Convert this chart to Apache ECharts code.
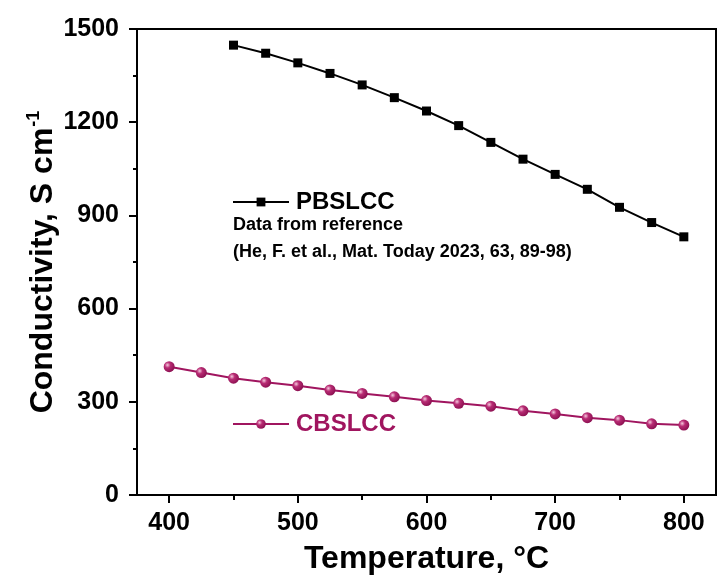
<!DOCTYPE html>
<html>
<head>
<meta charset="utf-8">
<script src="https://cdn.jsdelivr.net/npm/echarts@6/dist/echarts.min.js"></script>
<style>html,body{margin:0;padding:0;background:#fff;}#c{width:718px;height:581px;}</style>
</head>
<body>
<div id="c"></div>
<script>
const pbsTemps = [450,475,500,525,550,575,600,625,650,675,700,725,750,775,800];
const pbsValues = [1448,1422,1391,1357,1320,1279,1236,1189,1135,1081,1032,984,926,877,831];
const cbsTemps = [400,425,450,475,500,525,550,575,600,625,650,675,700,725,750,775,800];
const cbsValues = [413,394,376,363,352,338,327,316,304,295,286,271,261,249,241,229,225];
const xMajorTicks = [400,500,600,700,800];
const xMinorTicks = [450,550,650,750];
const yTickStep = 300;
const refLine1 = 'Data from reference';
const refLine2 = '(He, F. et al., Mat. Today 2023, 63, 89-98)';

const FONT = '"Liberation Sans", Arial, sans-serif';
const PINK = '#A0155F';
const pinkSphere = {type:'radial', x:0.35, y:0.35, r:0.75, colorStops:[
  {offset:0, color:'#f6c9de'}, {offset:0.35, color:'#b82c74'}, {offset:1, color:'#850c4c'}]};

const chart = echarts.init(document.getElementById('c'), null, {renderer:'canvas'});
chart.setOption({
  animation:false,
  backgroundColor:'#fff',
  textStyle:{fontFamily:FONT},
  grid:{left:137, right:2, top:29, bottom:86, show:true, borderColor:'#000', borderWidth:2, backgroundColor:'transparent'},
  xAxis:[{
    type:'value', min:375, max:825,
    name:'Temperature, °C', nameLocation:'middle', nameGap:48, nameMoveOverlap:false,
    nameTextStyle:{fontSize:32, fontWeight:'bold', color:'#000', fontFamily:FONT},
    axisLine:{lineStyle:{color:'#000', width:2}},
    axisTick:{customValues:xMajorTicks, length:8, lineStyle:{color:'#000', width:2}},
    axisLabel:{customValues:xMajorTicks, fontSize:25, fontWeight:'bold', color:'#000', margin:16, fontFamily:FONT},
    splitLine:{show:false}
  },{
    type:'value', min:375, max:825, position:'bottom',
    axisLine:{show:false},
    axisTick:{customValues:xMinorTicks, length:5, lineStyle:{color:'#000', width:2}},
    axisLabel:{show:false}, splitLine:{show:false}
  }],
  yAxis:{
    type:'value', min:0, max:1500, interval:yTickStep,
    name:'{a|Conductivity, S cm}{b|-1}', nameLocation:'middle', nameGap:76, nameRotate:90, nameMoveOverlap:false,
    nameTextStyle:{rich:{
      a:{fontSize:32, fontWeight:'bold', color:'#000', fontFamily:FONT, lineHeight:36},
      b:{fontSize:18, fontWeight:'bold', color:'#000', fontFamily:FONT, verticalAlign:'top', lineHeight:36, padding:[0,0,14,1]}
    }},
    axisLine:{show:true, lineStyle:{color:'#000', width:2}},
    axisTick:{show:true, length:8, lineStyle:{color:'#000', width:2}},
    minorTick:{show:true, splitNumber:2, length:4, lineStyle:{color:'#000', width:2}},
    axisLabel:{fontSize:25, fontWeight:'bold', color:'#000', margin:18, fontFamily:FONT, formatter:(v)=>String(v)},
    splitLine:{show:false}
  },
  legend:[{
    data:['PBSLCC'], left:232, top:190, orient:'vertical', padding:0,
    itemWidth:56, itemHeight:11, selectedMode:false,
    textStyle:{fontSize:24, fontWeight:'bold', color:'#000', fontFamily:FONT, padding:[0,0,0,2]}
  },{
    data:['CBSLCC'], left:232, top:412, orient:'vertical', padding:0,
    itemWidth:56, itemHeight:12, selectedMode:false,
    textStyle:{fontSize:24, fontWeight:'bold', color:PINK, fontFamily:FONT, padding:[0,0,0,2]}
  }],
  graphic:[
    {type:'text', left:233, top:216, style:{text:refLine1, font:'bold 18px "Liberation Sans", Arial, sans-serif', fill:'#000'}},
    {type:'text', left:233, top:243, style:{text:refLine2, font:'bold 18px "Liberation Sans", Arial, sans-serif', fill:'#000'}}
  ],
  series:[{
    name:'PBSLCC', type:'line', xAxisIndex:0,
    data:pbsTemps.map((t,i)=>[t,pbsValues[i]]),
    symbol:'rect', symbolSize:9,
    lineStyle:{color:'#000', width:2},
    itemStyle:{color:'#000'}
  },{
    name:'CBSLCC', type:'line', xAxisIndex:0,
    data:cbsTemps.map((t,i)=>[t,cbsValues[i]]),
    symbol:'circle', symbolSize:11,
    lineStyle:{color:PINK, width:2},
    itemStyle:{color:pinkSphere, borderWidth:0}
  }]
});
</script>
</body>
</html>
